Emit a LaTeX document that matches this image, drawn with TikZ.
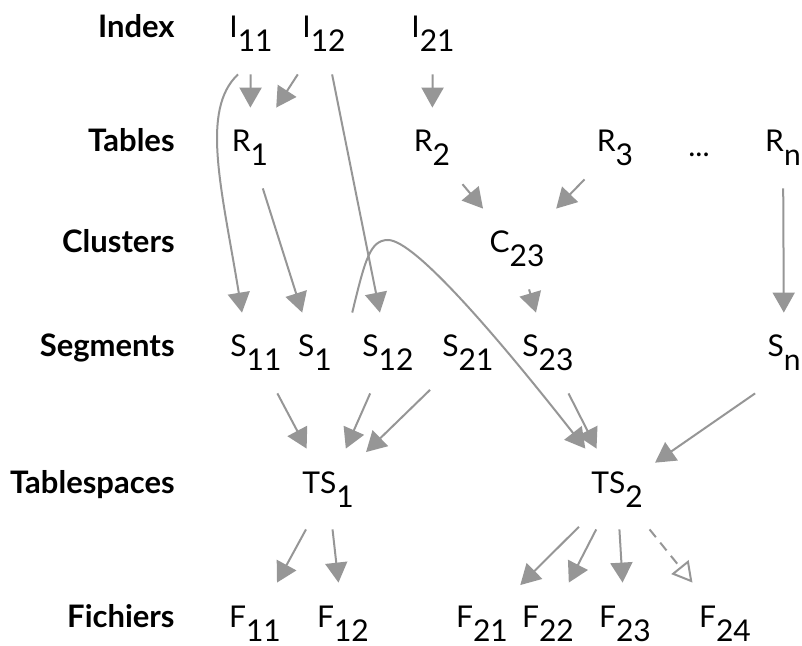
\documentclass[tikz,border=0pt]{standalone}
\usepackage{fontspec}
\setmainfont{Lato}
\usepackage{tikz}
\usetikzlibrary{arrows.meta}
\definecolor{linkgray}{RGB}{150,150,150}
\newcommand{\nsub}[2]{#1\raisebox{-7pt}{#2}}

\begin{document}
\begin{tikzpicture}[
  x=0.5pt,y=-0.5pt,
  layer/.style={anchor=base east,inner sep=0pt,
    font=\bfseries\fontsize{15.5}{18}\selectfont},
  item/.style={anchor=base,font=\fontsize{15}{18}\selectfont,
    text height=11pt,text depth=7pt,inner xsep=6pt,inner ysep=11pt},
  link/.style={draw=linkgray,line width=1pt,-{Triangle[length=10pt,width=11pt]}},
  maybe/.style={link,dash pattern=on 5pt off 3.5pt,
    -{Triangle[open,length=10pt,width=11pt]}}
]
\useasboundingbox (0,0) rectangle (802,646);
% levels
\node[layer] (lidx) at (175,38) {Index};
\node[layer] (ltab) at (175,152) {Tables};
\node[layer] (lclu) at (175,253) {Clusters};
\node[layer] (lseg) at (175,357) {Segments};
\node[layer] (lts) at (175,493) {Tablespaces};
\node[layer] (lfic) at (175,627) {Fichiers};
% index
\node[item] (i11) at (251,38) {\nsub{I}{11}};
\node[item] (i12) at (324,38) {\nsub{I}{12}};
\node[item] (i21) at (433,38) {\nsub{I}{21}};
% tables
\node[item] (r1) at (250,152) {\nsub{R}{1}};
\node[item] (r2) at (432,152) {\nsub{R}{2}};
\node[item] (r3) at (615,152) {\nsub{R}{3}};
\node[item] (dots) at (699,157) {...};
\node[item] (rn) at (783,152) {\nsub{R}{n}};
% clusters
\node[item] (c23) at (517,253) {\nsub{C}{23}};
% segments
\node[item] (s11) at (256,357) {\nsub{S}{11}};
\node[item] (s1) at (315,357) {\nsub{S}{1}};
\node[item] (s12) at (388,357) {\nsub{S}{12}};
\node[item] (s21) at (468,357) {\nsub{S}{21}};
\node[item] (s23) at (548,357) {\nsub{S}{23}};
\node[item] (sn) at (784,357) {\nsub{S}{n}};
% tablespaces
\node[item] (ts1) at (328,493) {\nsub{TS}{1}};
\node[item] (ts2) at (617,493) {\nsub{TS}{2}};
% fichiers
\node[item] (f11) at (255,627) {\nsub{F}{11}};
\node[item] (f12) at (343,627) {\nsub{F}{12}};
\node[item] (f21) at (482,627) {\nsub{F}{21}};
\node[item] (f22) at (548,627) {\nsub{F}{22}};
\node[item] (f23) at (625,627) {\nsub{F}{23}};
\node[item] (f24) at (725,627) {\nsub{F}{24}};

\draw[link] (i11) -- (r1);
\draw[link] (i12) -- (r1);
\draw[link] ([xshift=-6.5pt]i11.south) .. controls (200,110) and (222,190)
  .. ([xshift=-7pt]s11.north);
\draw[link] (i12) -- (s12);
\draw[link] (i21) -- (r2);
\draw[link] (r1) -- (s1);
\draw[link] (r2) -- (c23);
\draw[link] (r3) -- (c23);
\draw[link] (rn) -- (sn);
\draw[link] (c23) -- (s23);
\draw[link] ([xshift=4pt]s1.north east) .. controls (365,260) and (370,240)
  .. (388,240) .. controls (415,240) and (500,340) .. (ts2);
\draw[link] (s11) -- (ts1);
\draw[link] (s12) -- (ts1);
\draw[link] (s21) -- (ts1);
\draw[link] (s23) -- (ts2);
\draw[link] (sn.south west) -- (ts2);
\draw[link] (ts1) -- (f11);
\draw[link] (ts1) -- (f12);
\draw[link] (ts2) -- (f21);
\draw[link] (ts2) -- (f22);
\draw[link] (ts2) -- (f23);
\draw[maybe] (ts2) -- (f24);
\end{tikzpicture}
\end{document}
